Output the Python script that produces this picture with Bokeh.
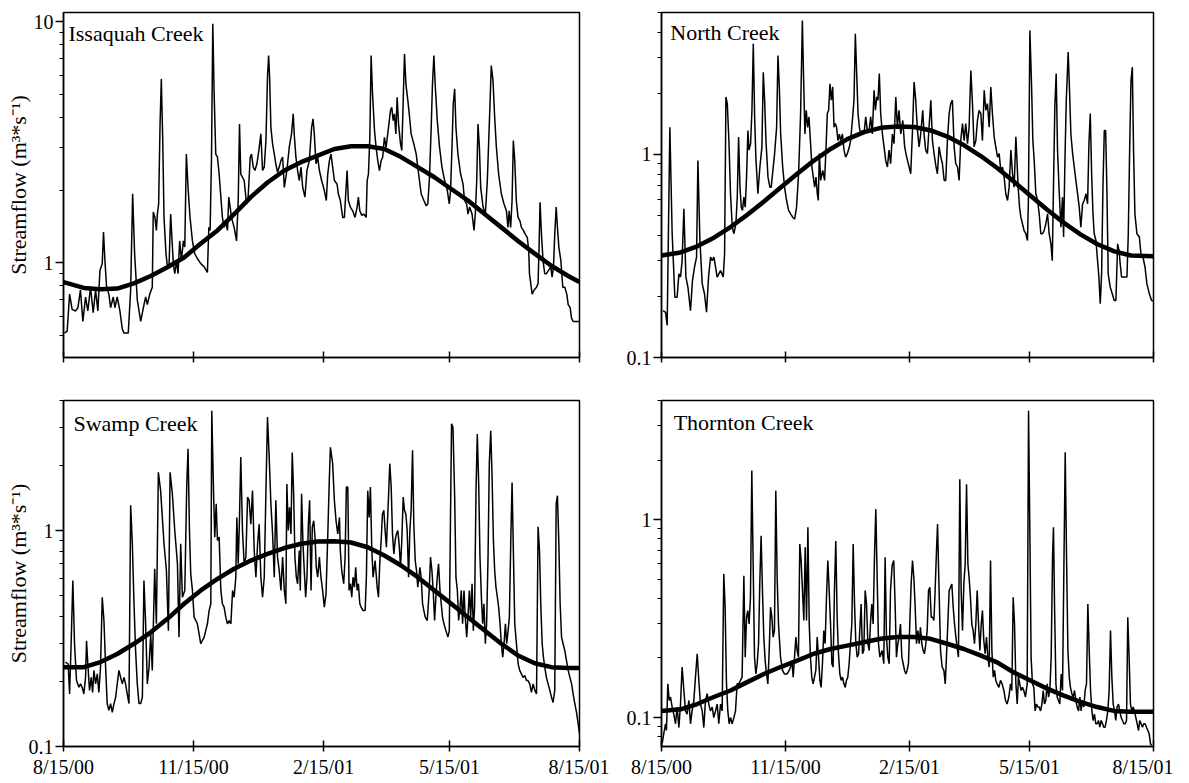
from datetime import datetime, timedelta
from bokeh.plotting import figure
from bokeh.layouts import column, row
from bokeh.models import FixedTicker, CustomJSTickFormatter, Label, Range1d
from bokeh.embed import file_html
from bokeh.resources import INLINE

START = datetime(2000, 8, 15)
END = datetime(2001, 8, 15)
X_TICK_DATES = [datetime(2000, 8, 15), datetime(2000, 11, 15), datetime(2001, 2, 15),
                datetime(2001, 5, 15), datetime(2001, 8, 15)]
Y_MAJOR = [0.1, 1, 10]
Y_MINOR = [0.07, 0.08, 0.09, 0.2, 0.3, 0.4, 0.5, 0.6, 0.7, 0.8, 0.9, 2, 3, 4, 5, 6, 7, 8, 9]
Y_LABEL = "Streamflow (m³*s⁻¹)"
SERIF = "Liberation Serif"

# ---------------- Issaquah Creek (days after 8/15/00, m3/s) ----------------
issaquah_day = [0.7, 2.6, 4.3, 6.1, 8.5, 10.2, 12.0, 13.7, 15.6, 17.2, 19.1, 21.0, 22.7, 24.3, 25.8, 27.4, 28.3, 29.3,
                30.5, 32.1, 33.3, 35.2, 36.4, 38.0, 39.9, 41.6, 42.8, 45.8, 47.5, 48.9, 50.3, 52.2, 54.6, 56.5, 58.1,
                59.3, 61.0, 62.8, 63.5, 64.7, 65.7, 66.4, 67.3, 68.3, 69.2, 70.2, 71.1, 72.5, 73.5, 74.7, 75.8, 76.8,
                77.7, 78.7, 80.1, 81.0, 82.2, 83.4, 84.8, 85.8, 86.9, 88.1, 89.5, 91.2, 92.8, 94.7, 97.1, 99.5, 101.8,
                102.8, 103.7, 104.7, 105.6, 106.5, 107.7, 108.9, 110.1, 111.3, 112.4, 113.6, 114.8, 116.0, 116.9,
                117.9, 118.8, 120.7, 122.4, 123.6, 124.5, 125.4, 126.6, 127.8, 129.5, 130.6, 132.1, 133.0, 134.2,
                135.4, 136.8, 138.2, 139.6, 140.8, 142.0, 143.2, 144.3, 145.1, 145.8, 146.7, 147.9, 149.1, 150.2,
                151.4, 152.6, 153.8, 155.0, 156.2, 158.0, 159.7, 161.3, 162.5, 163.2, 164.4, 165.6, 166.8, 168.0,
                169.2, 170.8, 172.2, 173.9, 175.5, 176.5, 177.4, 178.6, 179.8, 181.0, 182.6, 184.5, 185.9, 186.9,
                188.1, 189.2, 190.4, 191.6, 193.5, 194.4, 195.8, 197.5, 198.7, 199.9, 200.6, 201.5, 202.9, 204.6,
                206.2, 207.7, 208.6, 209.6, 211.0, 212.4, 214.1, 214.8, 215.7, 216.7, 217.6, 218.6, 220.0, 221.1,
                222.3, 223.5, 224.7, 225.8, 227.0, 228.2, 229.9, 231.3, 232.2, 233.2, 234.1, 235.1, 236.0, 237.0,
                238.4, 239.3, 240.3, 241.2, 242.2, 243.6, 244.8, 245.9, 247.8, 249.5, 250.6, 251.8, 253.0, 254.9,
                256.6, 257.7, 258.9, 260.1, 261.0, 262.0, 262.9, 264.4, 266.0, 267.7, 269.6, 271.5, 272.9, 273.8,
                274.8, 275.7, 276.7, 277.6, 279.0, 280.9, 282.6, 283.7, 285.2, 286.1, 287.3, 289.0, 290.4, 291.3,
                292.3, 293.2, 294.2, 295.1, 296.8, 298.4, 299.8, 300.7, 301.7, 302.6, 303.8, 305.0, 306.2, 307.8,
                309.7, 311.6, 313.3, 314.4, 315.2, 316.3, 317.3, 318.2, 319.2, 320.3, 321.5, 322.9, 323.9, 325.3,
                326.7, 328.1, 329.1, 329.6, 330.5, 331.5, 332.9, 334.6, 335.7, 336.4, 337.1, 338.1, 339.2, 340.4,
                341.6, 343.2, 344.7, 345.6, 346.6, 347.5, 348.5, 349.4, 350.4, 351.8, 353.2, 354.6, 356.0, 357.0,
                358.4, 359.3, 360.5, 362.9, 365.0]
issaquah_flow = [0.51, 0.52, 0.74, 0.64, 0.63, 0.65, 0.77, 0.57, 0.72, 0.63, 0.79, 0.62, 0.77, 0.63, 0.93, 0.99, 1.34, 1.02,
                 0.79, 0.74, 0.65, 0.72, 0.65, 0.72, 0.63, 0.53, 0.51, 0.51, 0.77, 1.93, 1.09, 0.70, 0.57, 0.65, 0.72,
                 0.67, 0.74, 0.79, 1.62, 1.54, 1.36, 1.59, 1.75, 3.76, 5.78, 3.21, 1.54, 1.09, 0.96, 0.99, 1.59, 1.23,
                 0.99, 0.90, 1.02, 0.90, 1.23, 1.02, 1.23, 1.16, 2.82, 2.05, 1.54, 1.23, 1.09, 1.04, 0.99, 0.96, 0.91,
                 1.40, 1.36, 2.74, 9.78, 5.17, 2.82, 2.74, 2.33, 1.87, 1.54, 1.40, 1.47, 1.36, 1.87,
                 1.70, 1.54, 1.40, 1.23, 1.81, 3.76, 2.33, 2.26, 2.19, 1.75, 1.87, 2.74, 2.82, 2.49,
                 2.41, 2.57, 2.92, 3.42, 2.41, 2.49, 3.21, 5.87, 7.22, 5.87, 3.64, 3.11, 2.82, 2.57,
                 2.37, 2.49, 2.65, 2.74, 2.05, 2.41, 3.01, 3.42, 4.14, 3.42, 2.74, 2.41, 2.19, 2.49,
                 2.05, 1.87, 2.41, 2.65, 3.64, 3.95, 3.42, 2.57, 2.74, 2.41, 2.19, 1.99, 1.81, 2.33,
                 2.65, 2.82, 2.49, 2.19, 2.12, 1.93, 1.81, 1.54, 1.54, 2.05, 2.41, 1.81, 1.70, 1.64,
                 1.54, 1.70, 1.87, 1.64, 1.57, 1.59, 1.54, 2.19, 2.33, 3.31, 7.22, 5.01, 3.53, 3.01,
                 2.65, 2.41, 2.65, 2.74, 3.31, 3.01, 3.64, 4.27, 4.41, 3.88, 4.14, 3.42, 4.85, 3.76,
                 3.11, 2.92, 4.70, 7.34, 5.51, 4.70, 4.01, 3.42, 3.11, 2.82, 2.49, 2.19, 1.93, 1.81,
                 1.72, 1.75, 2.26, 3.64, 5.51, 7.22, 5.51, 3.88, 3.01, 2.49, 2.19, 1.99, 1.75, 1.99,
                 3.01, 4.55, 5.26, 3.64, 2.82, 2.33, 2.12, 1.81, 1.75, 1.59, 1.70, 1.59, 1.36, 1.59,
                 2.19, 3.76, 3.01, 2.05, 1.70, 1.59, 2.19, 3.11, 4.55, 6.57, 5.69, 4.01, 3.01, 2.33,
                 1.93, 1.75, 1.64, 1.40, 1.64, 1.40, 1.81, 3.21, 2.65, 1.81, 1.54, 1.49, 1.40, 1.36,
                 1.31, 1.27, 1.12, 0.90, 0.82, 0.74, 0.77, 0.79, 0.82, 1.16, 1.78, 1.31, 1.02, 0.90,
                 0.90, 0.93, 0.96, 0.87, 0.96, 1.31, 1.70, 1.40, 1.16, 1.02, 0.79, 0.79, 0.74, 0.67,
                 0.65, 0.59, 0.57, 0.57, 0.57]
issaquah_fit_day = [0, 14.4, 26.2, 38.0, 49.8, 61.7, 73.5, 85.3, 97.1, 108.9, 120.7, 132.5, 144.3, 156.2, 168.0, 179.8,
                    191.6, 203.4, 215.2, 227.0, 238.8, 250.6, 262.4, 274.3, 286.1, 297.9, 309.7, 321.5, 333.3, 345.1,
                    357.0, 365]
issaquah_fit_flow = [0.83, 0.785, 0.775, 0.78, 0.82, 0.88, 0.957, 1.05, 1.20, 1.36, 1.59, 1.87, 2.15, 2.41, 2.61, 2.78,
                     2.96, 3.04, 3.04, 2.96, 2.74, 2.49, 2.26, 2.02, 1.81, 1.59, 1.40, 1.23, 1.09, 0.97, 0.88, 0.83]

# ---------------- North Creek ----------------
north_day = [1.2, 3.0, 4.2, 6.2, 7.9, 9.9, 11.6, 12.9, 14.1, 15.3, 16.6, 18.1, 19.6, 21.5, 23.0, 24.5, 26.0, 27.0, 28.5,
             30.2, 31.9, 33.4, 34.9, 36.4, 37.6, 38.9, 40.1, 41.3, 43.8, 45.8, 46.8, 47.8, 48.8, 50.0, 51.2, 52.5,
             53.7, 55.2, 56.2, 57.2, 58.2, 59.2, 60.1, 61.1, 62.1, 63.1, 64.1, 64.9, 66.1, 67.1, 68.1, 69.1, 70.0,
             71.5, 73.0, 74.5, 75.5, 76.5, 77.5, 79.0, 80.4, 81.4, 82.4, 83.9, 85.4, 86.4, 87.4, 88.4, 89.9, 91.3,
             92.8, 94.3, 95.8, 97.3, 98.8, 100.2, 101.7, 103.2, 104.5, 105.4, 106.4, 107.4, 108.4, 109.4, 110.6,
             111.6, 112.6, 113.6, 114.6, 115.6, 116.3, 117.1, 118.1, 119.6, 121.0, 122.0, 123.0, 124.0, 125.0,
             126.0, 127.0, 128.0, 128.9, 129.9, 130.9, 131.9, 132.9, 134.2, 135.4, 136.6, 137.9, 139.4, 140.3,
             141.6, 142.8, 143.8, 144.8, 145.8, 146.8, 147.8, 149.0, 150.2, 151.5, 152.7, 154.0, 155.2, 156.4,
             157.7, 158.7, 159.7, 160.6, 161.6, 162.6, 163.9, 165.1, 166.3, 167.6, 168.8, 170.0, 171.3, 172.5,
             173.8, 175.0, 176.2, 177.5, 179.0, 180.4, 181.9, 183.7, 184.9, 186.1, 187.4, 188.6, 189.9, 191.1,
             192.3, 193.8, 194.8, 196.0, 197.3, 198.5, 199.8, 201.0, 202.2, 203.7, 204.7, 205.9, 207.2, 208.4,
             209.7, 210.9, 212.1, 213.4, 214.6, 215.8, 217.1, 218.3, 219.6, 220.8, 222.0, 223.3, 224.5, 225.7,
             227.0, 228.2, 229.5, 230.7, 231.9, 233.2, 234.4, 235.6, 236.9, 238.1, 239.4, 240.6, 241.8, 243.1,
             244.3, 245.5, 246.8, 248.0, 249.3, 250.5, 251.7, 253.0, 254.2, 255.4, 256.7, 257.9, 259.2, 260.4,
             261.6, 262.9, 263.6, 264.6, 265.6, 266.6, 267.8, 269.0, 270.3, 271.5, 272.2, 273.3, 274.5, 275.5,
             276.5, 277.7, 279.0, 280.2, 281.4, 282.7, 283.9, 285.1, 286.4, 287.6, 288.9, 289.9, 290.8, 291.8,
             292.8, 293.8, 295.0, 296.3, 297.5, 298.3, 299.3, 300.3, 301.7, 302.7, 303.7, 305.0, 306.2, 307.4,
             308.7, 309.9, 311.1, 312.4, 313.6, 314.9, 316.1, 317.1, 318.1, 319.1, 320.1, 321.0, 322.3, 323.5,
             324.5, 325.5, 326.5, 327.5, 328.5, 329.5, 330.4, 331.4, 332.9, 334.4, 335.9, 337.1, 338.4, 339.4,
             340.3, 341.3, 343.3, 345.3, 346.3, 347.3, 348.3, 349.3, 350.2, 351.2, 352.7, 354.5, 355.7, 357.2,
             358.7, 360.1, 361.9, 363.6, 365.0]
north_flow = [0.170, 0.167, 0.144, 1.36, 0.41, 0.198, 0.198, 0.258, 0.249, 0.30, 0.54, 0.249, 0.222, 0.170, 0.240, 0.279,
              0.312, 0.934, 0.377, 0.231, 0.206, 0.167, 0.249, 0.312, 0.300, 0.312, 0.279, 0.249, 0.268, 0.249, 0.324,
              1.92, 1.78, 1.17, 0.64, 0.438, 0.407, 0.455, 0.616, 1.22, 0.69, 0.55, 0.53, 0.616, 0.55, 0.773, 1.31,
              1.05, 1.13, 1.65, 3.51, 1.53, 0.97, 0.64, 0.867, 1.09, 2.54, 1.85, 1.17, 0.773, 0.69, 0.69, 0.803,
              1.01, 1.36, 3.07, 2.15, 1.26, 0.867, 0.69, 0.593, 0.53, 0.51, 0.491, 0.48, 0.55, 0.803, 1.59, 4.57,
              2.40, 1.26, 1.65, 1.36, 1.53, 1.13, 0.867, 0.773, 0.69, 0.773, 0.64, 0.593, 1.01, 0.745, 0.834, 0.745,
              1.05, 1.59, 1.65, 2.23, 1.85, 2.15, 1.36, 1.42, 1.36, 1.17, 1.26, 1.17, 1.26, 1.05, 0.97, 1.01, 1.09,
              1.17, 1.47, 1.85, 3.93, 2.50, 1.59, 1.36, 1.26, 1.31, 1.26, 1.53, 1.31, 1.31, 1.53, 1.26, 2.07, 1.65,
              1.92, 1.85, 2.50, 1.59, 1.26, 1.09, 0.934, 0.867, 1.05, 0.90, 1.26, 1.13, 1.92, 1.36, 1.65, 1.26, 1.47,
              1.09, 0.97, 0.867, 0.803, 1.26, 2.27, 1.85, 1.31, 1.09, 1.26, 1.65, 1.26, 1.05, 1.01, 1.36, 1.85, 1.17,
              1.01, 0.867, 0.803, 1.09, 0.97, 0.90, 0.745, 0.745, 1.17, 1.59, 1.78, 1.85, 1.09, 0.90, 0.867, 0.745,
              1.17, 1.42, 1.17, 1.42, 1.13, 1.36, 2.59, 1.78, 1.09, 1.17, 1.47, 1.65, 1.59, 1.17, 2.07, 1.65, 1.78,
              1.36, 2.15, 1.59, 1.22, 1.09, 0.97, 1.01, 0.834, 0.867, 0.773, 0.64, 0.593, 0.69, 1.05, 0.803, 0.69,
              1.22, 0.97, 0.69, 0.55, 0.491, 0.455, 0.422, 0.407, 0.377, 0.593, 4.08, 2.23, 1.17, 0.934, 0.64, 0.593,
              0.51, 0.407, 0.407, 0.422, 0.455, 0.51, 0.407, 0.363, 0.30, 0.69, 1.71, 2.50, 1.05, 0.665, 0.438, 0.616,
              0.392, 0.934, 1.85, 3.19, 2.07, 1.26, 1.01, 0.867, 0.745, 0.64, 0.55, 0.438, 0.571, 0.593, 0.64, 0.571,
              1.13, 1.59, 0.803, 0.51, 0.407, 0.377, 0.30, 0.249, 0.184, 0.258, 0.69, 1.31, 1.31, 0.69, 0.258, 0.222,
              0.206, 0.191, 0.191, 0.363, 0.337, 0.289, 0.249, 0.249, 0.249, 0.407, 1.05, 2.31, 2.69, 1.05, 0.51,
              0.407, 0.392, 0.324, 0.312, 0.279, 0.231, 0.206, 0.191, 0.190]
north_fit_day = [0, 14.1, 26.5, 38.9, 51.2, 63.6, 76.0, 88.4, 100.7, 113.1, 125.5, 137.9, 150.2, 162.6, 175.0, 187.4,
                 199.8, 212.1, 224.5, 236.9, 249.3, 261.6, 274.0, 286.4, 298.8, 311.1, 323.5, 335.9, 348.3, 365]
north_fit_flow = [0.318, 0.329, 0.353, 0.389, 0.439, 0.504, 0.586, 0.687, 0.804, 0.933, 1.064, 1.189, 1.288, 1.352,
                  1.374, 1.365, 1.312, 1.225, 1.109, 0.982, 0.855, 0.733, 0.624, 0.533, 0.459, 0.403, 0.361, 0.333,
                  0.318, 0.315]

# ---------------- Swamp Creek ----------------
swamp_day = [1.4, 3.3, 4.3, 5.4, 6.6, 7.8, 9.2, 10.9, 12.0, 13.2, 14.4, 15.6, 16.3, 17.2, 18.4, 19.6, 20.6, 21.5, 22.7,
             23.9, 25.0, 26.2, 27.4, 28.6, 29.8, 30.9, 32.1, 33.3, 34.5, 35.7, 36.9, 38.0, 39.2, 40.4, 41.6, 42.8,
             43.9, 45.1, 46.3, 47.5, 48.7, 49.8, 51.0, 52.2, 53.4, 54.6, 55.8, 56.9, 58.1, 59.3, 60.5, 61.7, 62.8,
             64.5, 65.7, 67.1, 68.7, 71.1, 72.8, 74.2, 75.4, 77.0, 78.7, 80.6, 81.7, 82.9, 84.1, 85.8, 87.2, 88.1,
             89.1, 90.0, 91.2, 92.4, 94.7, 97.1, 99.5, 100.6, 101.8, 103.0, 104.2, 104.9, 106.1, 107.0, 108.0,
             108.9, 110.1, 111.3, 112.4, 113.6, 114.8, 116.0, 117.2, 118.4, 119.6, 120.7, 121.9, 122.6, 123.6,
             124.5, 125.4, 126.6, 127.8, 129.0, 130.2, 131.3, 132.5, 133.7, 134.9, 136.1, 137.3, 138.4, 139.6,
             140.8, 142.0, 143.2, 144.3, 145.5, 146.7, 147.9, 149.1, 150.2, 151.4, 152.6, 153.8, 155.0, 156.2,
             157.3, 158.0, 159.0, 159.9, 160.9, 161.8, 162.8, 163.7, 164.7, 165.6, 166.8, 167.5, 168.4, 169.4,
             170.3, 171.3, 172.2, 173.2, 174.1, 175.1, 176.0, 177.0, 177.9, 178.8, 179.8, 181.0, 182.1, 183.3,
             184.5, 185.7, 186.9, 188.0, 188.8, 190.4, 191.6, 192.8, 194.0, 195.2, 195.8, 196.8, 198.2, 199.2,
             200.1, 201.1, 202.0, 203.0, 203.9, 204.8, 205.8, 206.7, 207.7, 208.6, 209.6, 210.5, 211.9, 213.4,
             214.3, 215.2, 216.2, 217.1, 218.1, 219.0, 220.4, 221.9, 222.8, 223.7, 224.7, 225.6, 226.6, 227.5,
             228.4, 229.9, 230.8, 231.8, 232.7, 233.7, 234.6, 235.5, 236.5, 237.4, 238.4, 239.3, 240.3, 241.2,
             242.2, 243.1, 244.1, 245.0, 245.9, 246.9, 247.8, 248.8, 249.7, 250.6, 252.1, 253.0, 254.0, 254.9,
             255.9, 257.3, 258.7, 259.6, 260.6, 261.5, 262.5, 263.4, 264.4, 265.3, 266.3, 267.2, 268.1, 269.1,
             270.5, 271.9, 272.9, 273.8, 274.5, 275.5, 276.7, 277.6, 278.6, 279.5, 280.5, 281.4, 282.3, 283.3,
             284.2, 285.2, 286.1, 287.1, 288.0, 289.0, 289.9, 290.8, 291.8, 292.7, 293.7, 294.6, 295.6, 296.5,
             297.4, 298.4, 299.3, 300.3, 301.2, 302.2, 303.1, 304.1, 305.0, 305.9, 306.9, 307.8, 308.8, 309.7,
             310.7, 311.6, 312.6, 313.5, 314.5, 315.4, 316.4, 317.3, 318.3, 319.2, 320.4, 321.6, 322.7, 323.9,
             325.1, 326.3, 327.5, 328.6, 329.8, 331.0, 332.2, 333.4, 334.6, 335.7, 336.7, 337.6, 338.6, 339.5,
             340.4, 341.6, 342.8, 344.0, 345.2, 346.3, 347.5, 348.5, 349.4, 350.4, 351.3, 352.3, 353.4, 354.6,
             355.8, 357.0, 358.2, 359.4, 360.5, 361.7, 362.9, 364.1, 365.0]
swamp_flow = [0.246, 0.241, 0.175, 0.299, 0.587, 0.299, 0.202, 0.188, 0.195, 0.188, 0.175, 0.209, 0.309, 0.241, 0.182,
              0.209, 0.178, 0.225, 0.195, 0.217, 0.178, 0.233, 0.491, 0.383, 0.233, 0.158, 0.147, 0.158, 0.144, 0.158,
              0.169, 0.195, 0.225, 0.209, 0.195, 0.209, 0.195, 0.175, 0.158, 1.31, 0.868, 0.474, 0.278, 0.195, 0.158,
              0.158, 0.169, 0.587, 0.370, 0.195, 0.233, 0.332, 0.225, 0.665, 0.370, 1.86, 1.53, 0.868, 0.653, 0.344,
              1.86, 1.48, 1.00, 0.701, 0.321, 0.868, 0.491, 0.528, 1.64, 2.39, 1.00, 0.630, 0.528, 0.397, 0.370,
              0.299, 0.321, 0.344, 0.370, 0.426, 0.458, 3.59, 1.53, 0.932, 1.33, 0.899, 0.932, 0.528, 0.458, 0.442,
              0.397, 0.370, 0.383, 0.370, 0.528, 0.491, 0.608, 1.15, 0.701, 1.15, 2.19, 1.00, 0.701, 0.753, 1.43,
              1.38, 1.07, 1.53, 0.808, 0.608, 0.868, 1.07, 0.608, 0.491, 0.608, 1.53, 3.35, 2.19, 1.33, 0.965, 0.608,
              1.38, 0.753, 0.653, 0.528, 0.753, 0.528, 0.458, 1.64, 1.00, 1.28, 0.965, 2.30, 1.48, 0.753, 0.608,
              0.567, 0.808, 0.528, 1.48, 0.868, 0.653, 0.491, 0.608, 1.07, 1.38, 0.528, 1.04, 1.11, 0.932, 0.676,
              0.608, 0.753, 0.608, 0.528, 0.442, 0.509, 0.932, 1.70, 2.43, 2.04, 1.38, 1.11, 0.965, 1.15, 0.808,
              0.653, 0.567, 0.753, 1.59, 1.59, 0.528, 0.567, 0.491, 0.608, 0.547, 0.676, 0.528, 0.567, 0.458, 0.442,
              0.426, 0.426, 0.630, 1.53, 1.15, 1.59, 0.808, 0.608, 0.726, 0.547, 0.491, 0.701, 0.899, 1.19, 1.24,
              1.00, 0.837, 1.43, 2.04, 1.59, 0.965, 0.780, 0.899, 0.965, 1.00, 0.868, 0.676, 0.899, 1.43, 1.24, 1.19,
              1.00, 0.608, 1.00, 1.24, 2.35, 1.07, 0.726, 0.653, 0.547, 0.676, 0.608, 0.458, 0.426, 0.397, 0.383,
              0.528, 0.753, 0.653, 0.528, 0.383, 0.491, 0.608, 0.701, 0.528, 0.458, 0.397, 0.370, 0.344, 0.321,
              0.344, 1.24, 3.12, 3.01, 1.43, 0.608, 0.528, 0.383, 0.442, 0.528, 0.370, 0.528, 0.397, 0.321, 0.397,
              0.528, 0.397, 0.567, 0.344, 0.442, 1.53, 2.80, 1.64, 0.753, 0.491, 0.370, 0.458, 0.299, 0.370, 0.753,
              2.04, 2.90, 1.83, 0.899, 0.653, 0.547, 0.491, 0.442, 0.370, 0.299, 0.259, 0.299, 0.370, 0.299, 0.344,
              0.397, 0.899, 1.67, 0.753, 0.370, 0.299, 0.241, 0.225, 0.217, 0.209, 0.213, 0.202, 0.202, 0.195, 0.178,
              0.195, 0.182, 0.175, 1.04, 0.808, 0.458, 0.299, 0.259, 0.233, 0.209, 0.195, 0.182, 0.169, 0.160, 0.182,
              1.33, 1.45, 0.868, 0.458, 0.321, 0.299, 0.278, 0.250, 0.225, 0.209, 0.195, 0.175, 0.158, 0.144, 0.127,
              0.115]
swamp_fit_day = [0, 14.4, 26.2, 38.0, 49.8, 61.7, 73.5, 85.3, 97.1, 108.9, 120.7, 132.5, 144.3, 156.2, 168.0, 179.8,
                 191.6, 203.4, 215.2, 227.0, 238.8, 250.6, 262.4, 274.3, 286.1, 297.9, 309.7, 321.5, 333.3, 345.1,
                 357.0, 365]
swamp_fit_flow = [0.233, 0.233, 0.246, 0.268, 0.299, 0.338, 0.39, 0.458, 0.528, 0.597, 0.665, 0.726, 0.78, 0.83, 0.868,
                  0.89, 0.893, 0.88, 0.837, 0.766, 0.689, 0.608, 0.528, 0.458, 0.397, 0.344, 0.299, 0.264, 0.243,
                  0.233, 0.231, 0.231]

# ---------------- Thornton Creek ----------------
thornton_day = [0.5, 1.7, 3.0, 3.7, 4.7, 5.7, 6.7, 7.9, 9.1, 10.4, 11.6, 12.9, 14.1, 15.3, 16.6, 17.8, 19.0, 20.3, 21.5,
                22.7, 24.0, 25.2, 26.5, 27.7, 28.9, 30.2, 31.4, 32.6, 33.9, 35.1, 36.3, 37.6, 38.8, 40.1, 41.3, 42.5,
                43.8, 45.0, 46.2, 47.2, 48.2, 49.2, 50.2, 51.2, 52.4, 53.7, 54.9, 56.1, 57.4, 58.6, 59.8, 61.1, 62.1,
                63.1, 64.0, 65.0, 66.0, 67.0, 68.0, 69.0, 70.0, 71.0, 72.0, 72.9, 73.9, 74.9, 75.9, 76.9, 77.9, 78.9,
                79.9, 80.9, 81.9, 82.8, 83.8, 84.8, 85.8, 86.8, 88.3, 89.8, 91.2, 93.2, 94.7, 95.7, 96.7, 97.7, 98.7,
                99.7, 100.6, 101.6, 102.6, 103.6, 104.6, 105.6, 106.6, 107.6, 108.6, 109.6, 110.5, 111.5, 112.5,
                113.5, 114.5, 115.5, 116.5, 117.5, 118.4, 119.4, 120.4, 121.4, 122.4, 123.4, 124.4, 125.4, 126.4,
                127.3, 128.3, 129.3, 130.3, 131.3, 132.3, 133.3, 134.3, 135.3, 136.3, 137.2, 138.2, 139.2, 140.2,
                141.2, 142.2, 143.2, 144.2, 145.2, 146.2, 147.1, 148.1, 149.1, 150.1, 151.1, 152.1, 153.1, 154.1,
                155.0, 156.0, 157.0, 158.0, 159.0, 160.0, 161.0, 162.0, 163.7, 164.9, 165.9, 166.9, 167.9, 168.9,
                169.9, 171.1, 172.3, 173.3, 174.3, 175.3, 176.3, 177.3, 178.3, 179.3, 180.3, 181.3, 182.2, 183.2,
                184.2, 185.2, 186.2, 187.2, 188.2, 189.2, 190.2, 191.2, 192.1, 193.1, 194.1, 195.1, 196.1, 197.1,
                198.1, 199.1, 200.1, 201.1, 202.1, 203.0, 204.0, 204.8, 205.7, 207.0, 208.2, 209.5, 210.5, 211.4,
                212.4, 213.4, 214.4, 215.4, 216.4, 217.4, 218.4, 219.3, 220.3, 221.3, 222.3, 223.3, 224.3, 225.3,
                226.3, 227.3, 228.2, 229.2, 230.2, 231.2, 232.2, 233.2, 234.2, 235.2, 236.2, 237.2, 238.1, 239.1,
                240.1, 241.1, 242.1, 243.1, 244.1, 245.1, 246.1, 247.1, 248.0, 249.0, 250.3, 251.5, 252.7, 254.0,
                255.2, 256.4, 257.7, 258.9, 259.9, 260.9, 261.9, 262.9, 263.9, 264.8, 265.8, 266.8, 267.8, 268.8,
                270.0, 271.3, 272.3, 273.2, 274.2, 275.2, 276.2, 277.2, 278.2, 279.2, 280.2, 281.2, 282.2, 283.2,
                284.1, 285.1, 286.1, 287.1, 288.1, 289.1, 290.1, 290.8, 291.6, 292.6, 293.5, 294.5, 295.5, 296.5,
                297.5, 298.5, 299.5, 300.5, 301.5, 302.5, 303.4, 304.4, 305.4, 306.4, 307.4, 308.4, 309.4, 310.4,
                311.3, 312.3, 313.3, 314.3, 315.3, 316.3, 317.3, 318.3, 319.3, 320.2, 321.2, 322.2, 323.2, 324.2,
                325.2, 326.2, 327.2, 328.1, 329.1, 330.1, 331.1, 332.1, 333.1, 334.1, 335.1, 336.1, 337.0, 338.0,
                339.0, 340.0, 341.0, 342.0, 343.0, 344.0, 345.0, 345.9, 346.9, 347.9, 348.9, 349.9, 350.9, 351.9,
                352.9, 353.9, 354.8, 355.8, 356.8, 357.8, 358.8, 359.8, 360.8, 361.8, 362.8, 363.7]
thornton_flow = [0.074, 0.083, 0.093, 0.086, 0.148, 0.122, 0.127, 0.113, 0.104, 0.093, 0.113, 0.089, 0.117, 0.180,
                 0.137, 0.108, 0.104, 0.122, 0.093, 0.108, 0.122, 0.160, 0.210, 0.154, 0.117, 0.108, 0.089, 0.122,
                 0.132, 0.117, 0.108, 0.113, 0.100, 0.108, 0.117, 0.093, 0.117, 0.108, 0.532, 0.361, 0.148, 0.108,
                 0.093, 0.100, 0.093, 0.100, 0.108, 0.148, 0.148, 0.154, 0.160, 0.52, 0.202, 0.321, 0.347, 0.297,
                 0.405, 1.77, 0.597, 0.202, 0.166, 0.187, 0.236, 0.473, 0.83, 0.438, 0.255, 0.194, 0.166, 0.148,
                 0.218, 0.361, 0.321, 0.255, 0.275, 1.40, 0.511, 0.297, 0.202, 0.173, 0.166, 0.166, 0.173, 0.180,
                 0.194, 0.160, 0.202, 0.255, 0.218, 0.202, 0.753, 0.621, 0.438, 0.309, 0.725, 0.309, 0.915, 0.297,
                 0.202, 0.160, 0.148, 0.160, 0.173, 0.255, 0.202, 0.154, 0.142, 0.187, 0.275, 0.236, 0.405, 0.621,
                 0.438, 0.297, 0.187, 0.180, 0.438, 0.78, 0.321, 0.210, 0.166, 0.154, 0.160, 0.148, 0.142, 0.154,
                 0.160, 0.187, 0.236, 0.297, 0.753, 0.375, 0.236, 0.202, 0.210, 0.275, 0.375, 0.210, 0.218, 0.438,
                 0.375, 0.236, 0.218, 0.297, 0.375, 0.297, 0.645, 1.13, 0.511, 0.236, 0.202, 0.218, 0.187, 0.645,
                 0.255, 0.202, 0.187, 0.438, 0.586, 0.621, 0.375, 0.202, 0.236, 0.255, 0.297, 0.202, 0.187, 0.173,
                 0.166, 0.173, 0.187, 0.297, 0.473, 0.621, 0.511, 0.361, 0.236, 0.275, 0.236, 0.286, 0.236, 0.218,
                 0.210, 0.236, 0.275, 0.438, 0.455, 0.321, 0.321, 0.309, 0.438, 0.697, 0.95, 0.511, 0.218, 0.180,
                 0.173, 0.148, 0.202, 0.297, 0.438, 0.455, 0.473, 0.361, 0.297, 0.255, 0.227, 0.202, 1.60, 0.438,
                 0.275, 0.473, 0.597, 1.51, 0.597, 0.511, 0.405, 0.297, 0.275, 0.236, 0.297, 0.438, 0.297, 0.218,
                 0.297, 0.347, 0.245, 0.210, 0.255, 0.202, 0.180, 0.621, 0.218, 0.160, 0.173, 0.154, 0.148, 0.142,
                 0.154, 0.148, 0.137, 0.122, 0.117, 0.127, 0.148, 0.137, 0.405, 0.297, 0.148, 0.117, 0.160, 0.148,
                 0.137, 0.142, 0.137, 0.127, 0.148, 3.55, 0.95, 0.202, 0.148, 0.142, 0.108, 0.117, 0.113, 0.113,
                 0.108, 0.117, 0.137, 0.117, 0.122, 0.148, 0.127, 0.137, 0.202, 0.645, 0.915, 0.361, 0.148, 0.127,
                 0.122, 0.117, 0.166, 0.137, 0.553, 2.19, 0.645, 0.218, 0.160, 0.142, 0.132, 0.127, 0.137, 0.122,
                 0.113, 0.108, 0.127, 0.108, 0.122, 0.113, 0.137, 0.148, 0.375, 0.218, 0.137, 0.108, 0.0966, 0.104,
                 0.093, 0.093, 0.0966, 0.0894, 0.0966, 0.093, 0.0894, 0.0894, 0.0966, 0.108, 0.137, 0.275, 0.160,
                 0.117, 0.108, 0.0966, 0.113, 0.117, 0.108, 0.100, 0.0966, 0.093, 0.093, 0.0966, 0.321, 0.202, 0.117,
                 0.108, 0.113, 0.108, 0.100, 0.093, 0.086, 0.0966, 0.093, 0.0894, 0.093, 0.093, 0.0894, 0.086, 0.0827,
                 0.0736, 0.0725]
thornton_fit_day = [0, 14.1, 26.5, 38.8, 51.2, 63.6, 75.9, 88.3, 100.6, 113.0, 125.4, 137.7, 150.1, 162.5, 174.8, 187.2,
                    199.6, 211.9, 224.3, 236.6, 249.0, 261.4, 273.7, 286.1, 298.5, 310.8, 323.2, 335.6, 347.9, 365]
thornton_fit_flow = [0.108, 0.110, 0.117, 0.127, 0.137, 0.151, 0.166, 0.180, 0.194, 0.210, 0.222, 0.231, 0.240, 0.250,
                     0.255, 0.255, 0.250, 0.236, 0.222, 0.206, 0.190, 0.169, 0.154, 0.140, 0.129, 0.120, 0.113, 0.108,
                     0.107, 0.107]


def ms(d):
    return (d - datetime(1970, 1, 1)).total_seconds() * 1000.0


def to_dates(days):
    return [START + timedelta(days=d) for d in days]


X_FMT = CustomJSTickFormatter(code="""
const d = new Date(tick);
return (d.getUTCMonth() + 1) + "/" + d.getUTCDate() + "/" + String(d.getUTCFullYear()).slice(2);
""")
X_BLANK = CustomJSTickFormatter(code="return '';")


def panel(name, days, flow, fit_days, fit_flow, y_lo, y_hi, lab_day, lab_y, fw, fh,
          bl, br, bt, bb, show_x_labels, y_label, label_standoff):
    p = figure(frame_width=fw, frame_height=fh, x_axis_type="datetime", y_axis_type="log",
               x_range=Range1d(START, END), y_range=Range1d(y_lo, y_hi),
               output_backend="svg", toolbar_location=None,
               min_border_left=bl, min_border_right=br, min_border_top=bt, min_border_bottom=bb)
    p.background_fill_color = "white"
    p.border_fill_color = "white"
    p.grid.visible = False
    p.outline_line_color = "black"
    p.outline_line_width = 1.5
    p.outline_line_alpha = 1.0

    p.line(to_dates(days), flow, line_color="black", line_width=1.5)
    p.line(to_dates(fit_days), fit_flow, line_color="black", line_width=4.5, line_join="round")

    xa = p.xaxis[0]
    xa.ticker = FixedTicker(ticks=[ms(d) for d in X_TICK_DATES], minor_ticks=[])
    xa.formatter = X_FMT if show_x_labels else X_BLANK
    xa.axis_line_color = "black"
    xa.axis_line_width = 1.5
    xa.major_tick_line_color = "black"
    xa.major_tick_line_width = 1.5
    xa.major_tick_in = 6
    xa.major_tick_out = 5
    xa.minor_tick_line_color = None
    xa.major_label_standoff = 4
    xa.major_label_text_font = SERIF
    xa.major_label_text_color = "black"
    xa.major_label_text_font_size = "20px"

    ya = p.yaxis[0]
    ya.ticker = FixedTicker(ticks=Y_MAJOR, minor_ticks=Y_MINOR)
    ya.formatter = CustomJSTickFormatter(code="return String(tick);")
    ya.axis_line_color = "black"
    ya.axis_line_width = 1.5
    ya.major_tick_line_color = "black"
    ya.major_tick_line_width = 1.5
    ya.major_tick_in = 0
    ya.major_tick_out = 8
    ya.minor_tick_line_color = "black"
    ya.minor_tick_line_width = 1.2
    ya.minor_tick_in = 0
    ya.minor_tick_out = 4
    ya.major_label_standoff = 2
    ya.major_label_text_font = SERIF
    ya.major_label_text_font_size = "20px"
    ya.major_label_text_color = "black"
    if y_label:
        ya.axis_label = Y_LABEL
        ya.axis_label_text_font = SERIF
        ya.axis_label_text_font_size = "22px"
        ya.axis_label_text_font_style = "normal"
        ya.axis_label_text_color = "black"
        ya.axis_label_standoff = label_standoff

    p.add_layout(Label(x=ms(START + timedelta(days=lab_day)), y=lab_y, text=name,
                       text_font=SERIF, text_font_size="22px", text_color="black",
                       text_baseline="middle", text_align="left"))
    return p


p1 = panel("Issaquah Creek", issaquah_day, issaquah_flow, issaquah_fit_day, issaquah_fit_flow,
           0.404, 10.9, 3.5, 8.9, 516, 345, 63, 30, 12, 20, False, True, 0)
p2 = panel("North Creek", north_day, north_flow, north_fit_day, north_fit_flow,
           0.1, 5.0, 6.5, 3.99, 492, 345, 52, 20, 12, 20, False, False, 0)
p3 = panel("Swamp Creek", swamp_day, swamp_flow, swamp_fit_day, swamp_fit_flow,
           0.1, 4.0, 7.0, 3.13, 516, 346, 63, 30, 23, 30, True, True, -5)
p4 = panel("Thornton Creek", thornton_day, thornton_flow, thornton_fit_day, thornton_fit_flow,
           0.0714, 4.0, 9.0, 3.09, 492, 346, 52, 20, 23, 30, True, False, 0)

layout = column(row(p1, p2), row(p3, p4))
open("out.html", "w").write(file_html(layout, INLINE))
